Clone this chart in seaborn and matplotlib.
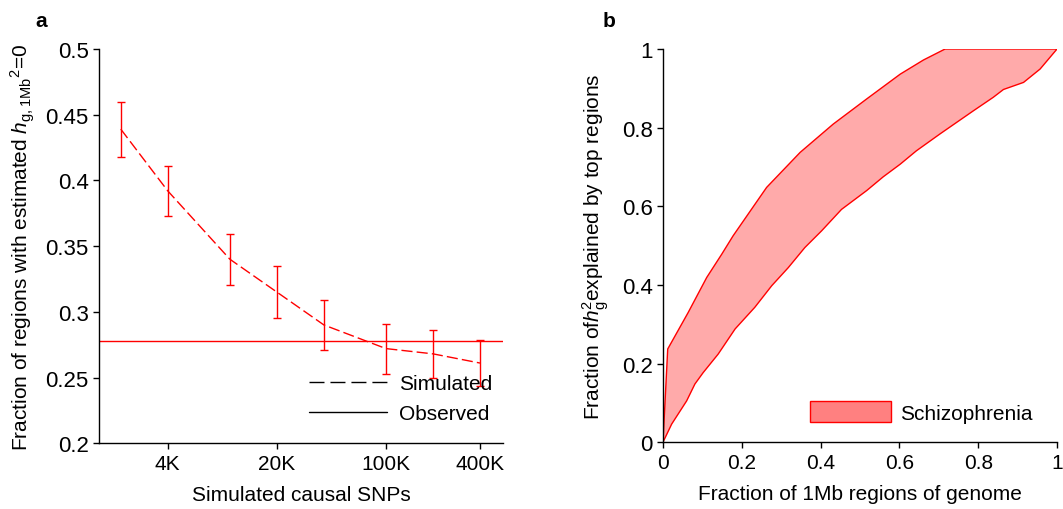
import numpy as np
import pandas as pd
import matplotlib
matplotlib.use('Agg')
import matplotlib.pyplot as plt
from matplotlib.lines import Line2D
from matplotlib.patches import Patch
from matplotlib.ticker import FixedLocator, NullLocator
import seaborn as sns

# --- panel a data ---
snps = [2000, 4000, 10000, 20000, 40000, 100000, 200000, 400000]
frac_zero = [0.439, 0.392, 0.340, 0.315, 0.290, 0.272, 0.268, 0.261]
frac_err = [0.021, 0.019, 0.0195, 0.0197, 0.019, 0.019, 0.0185, 0.0175]
observed = 0.2776
a_xticks = [4000, 20000, 100000, 400000]
a_xticklabels = ['4K', '20K', '100K', '400K']
a_yticks = [0.2, 0.25, 0.3, 0.35, 0.4, 0.45, 0.5]
a_yticklabels = ['0.2', '0.25', '0.3', '0.35', '0.4', '0.45', '0.5']

# --- panel b data ---
upper_x = [0, 0.012, 0.064, 0.111, 0.149, 0.178, 0.263, 0.348, 0.432,
           0.517, 0.602, 0.661, 0.716, 1.0]
upper_y = [0, 0.237, 0.33, 0.419, 0.478, 0.525, 0.648, 0.737, 0.809,
           0.873, 0.936, 0.972, 1.0, 1.0]
lower_x = [0, 0.022, 0.06, 0.081, 0.102, 0.14, 0.183, 0.233, 0.276, 0.318,
           0.36, 0.403, 0.453, 0.517, 0.559, 0.602, 0.643, 0.703, 0.788, 0.838,
           0.864, 0.915, 0.957, 1.0]
lower_y = [0, 0.046, 0.105, 0.148, 0.177, 0.224, 0.288, 0.343, 0.398, 0.444,
           0.495, 0.538, 0.592, 0.64, 0.675, 0.707, 0.741, 0.784, 0.843, 0.877,
           0.897, 0.915, 0.949, 1.0]
b_ticks = [0, 0.2, 0.4, 0.6, 0.8, 1.0]
b_ticklabels = ['0', '0.2', '0.4', '0.6', '0.8', '1']

sns.set_style('ticks')
plt.rcParams['font.family'] = ['Liberation Sans', 'DejaVu Sans']
plt.rcParams['mathtext.fontset'] = 'custom'
plt.rcParams['mathtext.rm'] = 'Liberation Sans'
plt.rcParams['mathtext.it'] = 'Liberation Sans:italic'
plt.rcParams['font.size'] = 15
plt.rcParams['text.color'] = 'black'
plt.rcParams['axes.labelcolor'] = 'black'
plt.rcParams['xtick.color'] = 'black'
plt.rcParams['ytick.color'] = 'black'

RED = '#ff0000'
FS = 15

fig = plt.figure(figsize=(10.63, 5.10), dpi=100)
ax1 = fig.add_axes([0.0931, 0.129, 0.3799, 0.773])
ax2 = fig.add_axes([0.6237, 0.131, 0.3707, 0.771])

# ==========================================
# PANEL A
# ==========================================
df_a = pd.DataFrame({'snps': snps, 'frac': frac_zero, 'err': frac_err})
sns.lineplot(data=df_a, x='snps', y='frac', ax=ax1, color=RED, lw=1,
             legend=False)
ax1.lines[-1].set_linestyle((0, (8, 3)))
ax1.errorbar(df_a['snps'], df_a['frac'], yerr=df_a['err'], fmt='none',
             ecolor=RED, elinewidth=1, capsize=3, capthick=1)
ax1.axhline(observed, color=RED, lw=1)

ax1.set_xscale('log')
ax1.set_xlim(1450, 560000)
ax1.set_ylim(0.2, 0.5)
ax1.xaxis.set_major_locator(FixedLocator(a_xticks))
ax1.xaxis.set_minor_locator(NullLocator())
ax1.set_xticklabels(a_xticklabels)
ax1.set_yticks(a_yticks)
ax1.set_yticklabels(a_yticklabels)
ax1.tick_params(labelsize=FS, length=4, width=1, color='black')
ax1.tick_params(axis='y', labelsize=16)
ax1.set_xlabel('Simulated causal SNPs', fontsize=FS, labelpad=9)
ax1.set_ylabel(r'Fraction of regions with estimated ${\it{h}}_{\rm g,1Mb}{}^{\rm 2}$=0',
               fontsize=FS, labelpad=6)

handles_a = [Line2D([], [], color='black', lw=1, linestyle=(0, (10.8, 4.3))),
             Line2D([], [], color='black', lw=1)]
ax1.legend(handles_a, ['Simulated', 'Observed'], loc='lower right',
           frameon=False, fontsize=FS, handlelength=3.75, handletextpad=0.55,
           borderpad=0, borderaxespad=0, bbox_to_anchor=(0.973, 0.05),
           labelspacing=0.55)

# ==========================================
# PANEL B
# ==========================================
poly_x = upper_x + lower_x[::-1]
poly_y = upper_y + lower_y[::-1]
ax2.fill(poly_x, poly_y, facecolor='#ffaaaa', edgecolor=RED, lw=1)
ax2.set_xlim(0, 1)
ax2.set_ylim(0, 1)
ax2.set_xticks(b_ticks)
ax2.set_xticklabels(b_ticklabels)
ax2.set_yticks(b_ticks)
ax2.set_yticklabels(b_ticklabels)
ax2.tick_params(labelsize=FS, length=4, width=1, color='black')
ax2.tick_params(axis='y', labelsize=16)
ax2.set_xlabel('Fraction of 1Mb regions of genome', fontsize=FS, labelpad=9)
ax2.set_ylabel(r'Fraction of${\it{h}}_{\rm g}^{\rm 2}$explained by top regions',
               fontsize=FS, labelpad=8)
ax2.legend([Patch(facecolor='#ff8080', edgecolor=RED, lw=1)], ['Schizophrenia'],
           loc='lower right', frameon=False, fontsize=FS, handlelength=3.9,
           handleheight=1.15, handletextpad=0.45, borderpad=0, borderaxespad=0,
           bbox_to_anchor=(0.939, 0.05))

for ax in (ax1, ax2):
    sns.despine(ax=ax)
    for s in ('left', 'bottom'):
        ax.spines[s].set_color('black')
        ax.spines[s].set_linewidth(1)

fig.text(0.033, 0.958, 'a', fontsize=15, fontweight='bold', va='center')
fig.text(0.567, 0.958, 'b', fontsize=15, fontweight='bold', va='center')

fig.savefig('out.png', dpi=100)
